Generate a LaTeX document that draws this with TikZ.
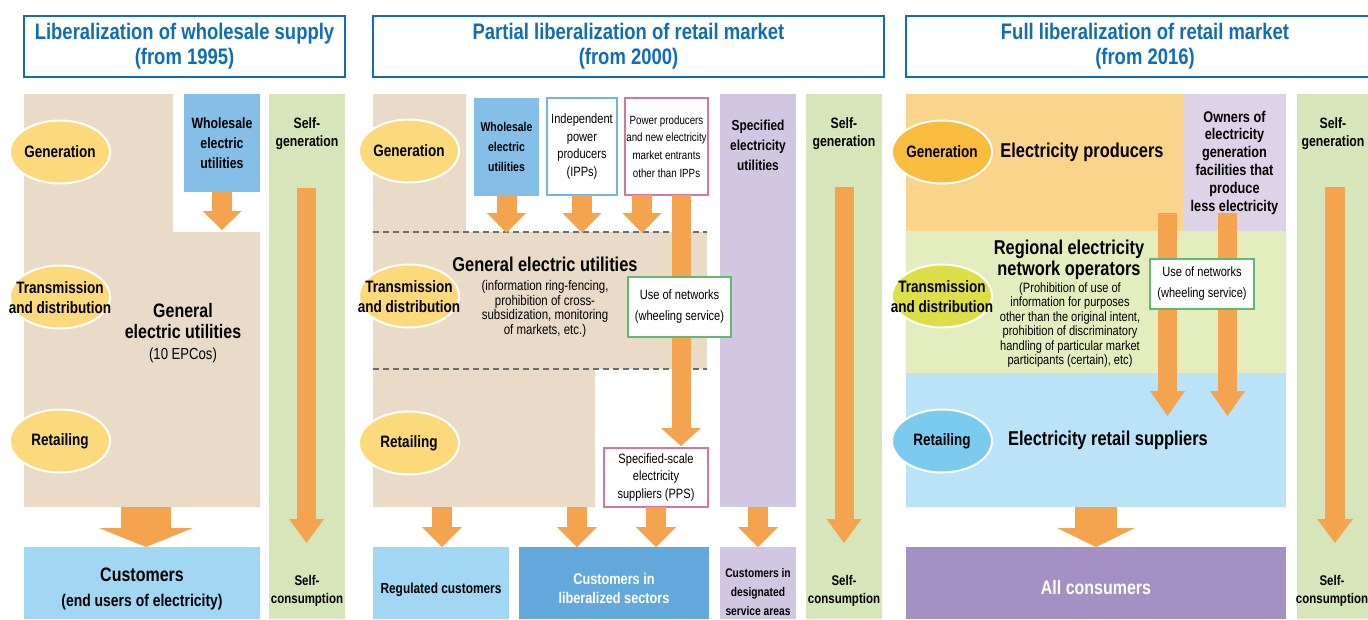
\documentclass[tikz,border=0pt]{standalone}
\usepackage{fontspec}
\setmainfont{Liberation Sans}[FakeStretch=0.82]
\usetikzlibrary{shapes.geometric,arrows.meta,positioning}

\definecolor{headblue}{HTML}{0F6DB7}
\definecolor{tan}{HTML}{EADBC8}
\definecolor{selfgreen}{HTML}{D6E6BA}
\definecolor{wsblue}{HTML}{85BFE8}
\definecolor{custblue}{HTML}{A2D7F4}
\definecolor{libblue}{HTML}{63A9DB}
\definecolor{spcpurple}{HTML}{D2C7E2}
\definecolor{arrorange}{HTML}{F4A44F}
\definecolor{ellyellow}{HTML}{FCD97B}
\definecolor{prodorange}{HTML}{FBD48B}
\definecolor{ownpurple}{HTML}{DDD2E7}
\definecolor{netgreen}{HTML}{E4EDBD}
\definecolor{retblue}{HTML}{BBE3F7}
\definecolor{allpurple}{HTML}{A590C4}
\definecolor{genorange}{HTML}{F9BC3D}
\definecolor{trgreen}{HTML}{DCDF47}
\definecolor{retellblue}{HTML}{7BCBEF}
\definecolor{ippblue}{HTML}{72B5E4}
\definecolor{ppspink}{HTML}{D7749F}
\definecolor{usegreen}{HTML}{62BA72}
\definecolor{dashgray}{HTML}{6E6E6E}

\newcommand{\fs}[2]{\fontsize{#1}{#2}\selectfont}

\tikzset{
  headbox/.style={draw=headblue, line width=2.5, text=headblue, font=\bfseries\fs{22.5}{25}, align=center, inner sep=0},
  blk/.style={inner sep=0, outer sep=0, align=center},
  stage/.style={ellipse, draw=white, line width=2, minimum width=100, minimum height=63, inner sep=0},
  stagetext/.style={blk, font=\bfseries\fs{16.5}{20}},
  lbl/.style={blk, font=\bfseries\fs{15}{18}},
  note/.style={blk, font=\fs{13.5}{17.7}},
  bigl/.style={blk, font=\bfseries\fs{20}{21}},
  divider/.style={dashgray, line width=1.2, dash pattern=on 6pt off 4pt},
  fatarrow/.style args={#1/#2/#3}{draw=arrorange, line width=#1pt, -{Triangle[width=#2pt, length=#3pt, line width=0pt]}}
}

\begin{document}
\begin{tikzpicture}[x=1pt, y=-1pt]
\useasboundingbox (0,0) rectangle (1368,619);

% left: wholesale supply
\node[headbox, minimum width=321, minimum height=61] (headL) at (184.5,46.5) {Liberalization of wholesale supply\\(from 1995)};
\fill[tan] (24,94) -- (173,94) -- (173,232) -- (260,232) -- (260,507) -- (24,507) -- cycle;
\fill[selfgreen] (269,94) rectangle (345,619);
\node[blk, fill=wsblue, minimum width=76, minimum height=98, font=\bfseries\fs{15}{20}] (wsL) at (222,143) {Wholesale\\electric\\utilities};
\node[stage, fill=ellyellow] (genL) at (60,152) {};
\node[stagetext] (genLt) at (genL) {Generation};
\node[stage, fill=ellyellow] (trdL) at (60,297) {};
\node[stagetext] (trdLt) at (60,298) {Transmission\\and distribution};
\node[stage, fill=ellyellow] (retL) at (60,441) {};
\node[stagetext] (retLt) at (retL) {Retailing};
\node[blk, font=\bfseries\fs{19.5}{21}] (geuL) at (183,321) {General\\electric utilities};
\node[blk, font=\fs{16}{18}] (epcL) at (183,355) {(10 EPCos)};
\node[blk, fill=custblue, minimum width=236, minimum height=72] (custL) at (142,583) {};
\node[blk, font=\bfseries\fs{19.5}{25}] (custLt) at (142,589) {Customers\\\fs{17}{25}(end users of electricity)};
\node[lbl] (sgL) at (307,134) {Self-\\generation};
\node[lbl, font=\bfseries\fs{14}{18}] (scL) at (307,591) {Self-\\consumption};
\coordinate (wsbL) at (222,230);
\coordinate (tanL) at (146,507);
\coordinate (sgaL) at (306.5,188);
\coordinate (sgbL) at (306.5,543);
\draw[fatarrow=20/39/19] (wsL.south) -- (wsbL);
\draw[fatarrow=50/94/19] (tanL) -- (custL.north -| tanL);
\draw[fatarrow=19/35/24] (sgaL) -- (sgbL);

% middle: partial liberalization
\node[headbox, minimum width=511, minimum height=61] (headM) at (628.5,46.5) {Partial liberalization of retail market\\(from 2000)};
\fill[tan] (373,94) -- (466,94) -- (466,232) -- (707,232) -- (707,369) -- (595,369) -- (595,507) -- (373,507) -- cycle;
\draw[divider] (373,232) -- (707,232);
\draw[divider] (373,369) -- (707,369);
\node[blk, fill=spcpurple, minimum width=76, minimum height=413] (spcM) at (758,300.5) {};
\node[lbl, font=\bfseries\fs{14.5}{20}] (spcMt) at (758,145) {Specified\\electricity\\utilities};
\fill[selfgreen] (806,94) rectangle (882,619);
\node[lbl] (sgM) at (844,134) {Self-\\generation};
\node[lbl, font=\bfseries\fs{14}{18}] (scM) at (844,591) {Self-\\consumption};
\node[blk, fill=wsblue, minimum width=65, minimum height=98, font=\bfseries\fs{12.8}{20}] (wsM) at (506.5,147) {Wholesale\\electric\\utilities};
\node[note, draw=ippblue, line width=1.5, fill=white, minimum width=70, minimum height=97] (ippM) at (582,146.5) {Independent\\power\\producers\\(IPPs)};
\node[note, draw=ppspink, line width=1.5, fill=white, minimum width=83, minimum height=97, font=\fs{11.9}{17.7}] (ppM) at (666.5,146.5) {Power producers\\and new electricity\\market entrants\\other than IPPs};
\node[stage, fill=ellyellow] (genM) at (409,151) {};
\node[stagetext] (genMt) at (genM) {Generation};
\node[stage, fill=ellyellow] (trdM) at (409,296) {};
\node[stagetext] (trdMt) at (409,297) {Transmission\\and distribution};
\node[stage, fill=ellyellow] (retM) at (409,443) {};
\node[stagetext] (retMt) at (retM) {Retailing};
\node[bigl] (geuM) at (545,264) {General electric utilities};
\node[blk, font=\fs{14}{14.5}] (rulM) at (545,309) {(information ring-fencing,\\prohibition of cross-\\subsidization, monitoring\\of markets, etc.)};
\node[note, draw=ppspink, line width=1.5, fill=white, minimum width=104, minimum height=59] (ppsM) at (656,477.5) {Specified-scale\\electricity\\suppliers (PPS)};
\node[blk, fill=custblue, minimum width=136, minimum height=72] (regM) at (441,583) {};
\node[blk, font=\bfseries\fs{14.5}{18}] (regMt) at (441,590) {Regulated customers};
\node[blk, fill=libblue, minimum width=190, minimum height=72] (libM) at (614,583) {};
\node[blk, text=white, font=\bfseries\fs{15.5}{19}] (libMt) at (614,588) {Customers in\\liberalized sectors};
\node[blk, fill=spcpurple, minimum width=76, minimum height=72] (desM) at (758,583) {};
\node[blk, font=\bfseries\fs{12.5}{19}] (desMt) at (758,592) {Customers in\\designated\\service areas};
\coordinate (ipbM) at (582,233);
\coordinate (ppbM) at (642,233);
\coordinate (longM) at (681,446);
\coordinate (tanM1) at (442,507);
\coordinate (tanM2) at (577,507);
\coordinate (sgaM) at (844,187);
\coordinate (sgbM) at (844,543);
\draw[fatarrow=20/39/20] (wsM.south) -- (wsM.south |- ipbM);
\draw[fatarrow=20/39/20] (ippM.south) -- (ipbM);
\draw[fatarrow=20/39/20] (ppM.south -| ppbM) -- (ppbM);
\draw[fatarrow=19/40/18] (ppM.south -| longM) -- (longM);
\draw[fatarrow=20/40/20] (tanM1) -- (regM.north -| tanM1);
\draw[fatarrow=20/40/20] (tanM2) -- (libM.north -| tanM2);
\draw[fatarrow=20/40/20] (ppsM.south) -- (libM.north -| ppsM.south);
\draw[fatarrow=20/40/20] (spcM.south) -- (desM.north);
\draw[fatarrow=19/35/24] (sgaM) -- (sgbM);
\node[note, draw=usegreen, line width=2, fill=white, minimum width=103, minimum height=60, font=\fs{13.5}{21}] (useM) at (679.5,307) {Use of networks\\(wheeling service)};

% right: full liberalization
\node[headbox, minimum width=478, minimum height=61] (headR) at (1145,46.5) {Full liberalization of retail market\\(from 2016)};
\fill[prodorange] (906,94) rectangle (1183,231);
\node[blk, fill=ownpurple, minimum width=103, minimum height=137, font=\bfseries\fs{15.5}{17.8}] (ownR) at (1234.5,162.5) {Owners of\\electricity\\generation\\facilities that\\produce\\less electricity};
\fill[netgreen] (906,231) rectangle (1286,373);
\fill[retblue] (906,373) rectangle (1286,507);
\fill[selfgreen] (1297,94) rectangle (1373,619);
\node[lbl] (sgR) at (1333,134) {Self-\\generation};
\node[lbl, font=\bfseries\fs{14}{18}] (scR) at (1332,591) {Self-\\consumption};
\node[blk, fill=allpurple, minimum width=380, minimum height=72] (allR) at (1096,583) {};
\node[blk, text=white, font=\bfseries\fs{19.5}{22}] (allRt) at (1096,588) {All consumers};
\node[stage, fill=genorange] (genR) at (942,152) {};
\node[stagetext] (genRt) at (genR) {Generation};
\node[stage, fill=trgreen] (trdR) at (942,296) {};
\node[stagetext] (trdRt) at (942,297) {Transmission\\and distribution};
\node[stage, fill=retellblue] (retR) at (942,441) {};
\node[stagetext] (retRt) at (retR) {Retailing};
\node[bigl] (prodR) at (1082,152) {Electricity producers};
\node[bigl] (netR) at (1069,259.5) {Regional electricity\\network operators};
\node[blk, font=\fs{13.5}{14.4}] (rulR) at (1070,325) {(Prohibition of use of\\information for purposes\\other than the original intent,\\prohibition of discriminatory\\handling of particular market\\participants (certain), etc)};
\node[bigl] (supR) at (1108,440) {Electricity retail suppliers};
\coordinate (supbR) at (1096,507);
\coordinate (proaR) at (1167.5,213);
\coordinate (probR) at (1167.5,416);
\coordinate (owaR) at (1227.5,213);
\coordinate (owbR) at (1227.5,416);
\coordinate (sgaR) at (1335,187);
\coordinate (sgbR) at (1335,543);
\draw[fatarrow=42/78/19] (supbR) -- (allR.north -| supbR);
\draw[fatarrow=19/35/25] (proaR) -- (probR);
\draw[fatarrow=19/35/25] (owaR) -- (owbR);
\draw[fatarrow=20/36/24] (sgaR) -- (sgbR);
\node[note, draw=usegreen, line width=2, fill=white, minimum width=104, minimum height=50, font=\fs{13.5}{21}] (useR) at (1202,284) {Use of networks\\(wheeling service)};
\end{tikzpicture}
\end{document}
